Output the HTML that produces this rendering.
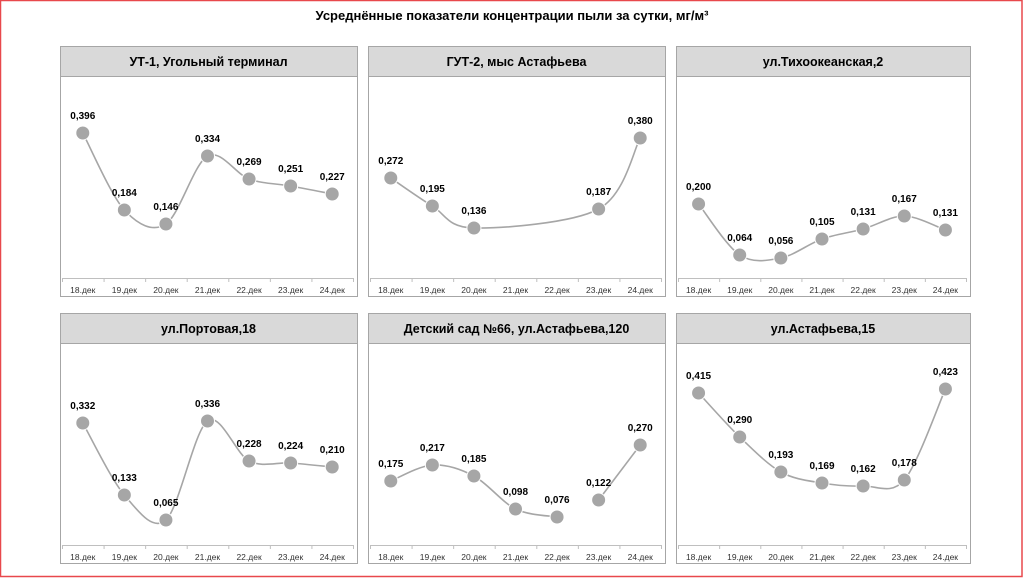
<!DOCTYPE html>
<html><head><meta charset="utf-8"><style>
html,body{margin:0;padding:0;background:#fff}
svg{display:block}
text{font-family:"Liberation Sans",Arial,sans-serif}
</style></head><body>
<svg id="s" width="1024" height="578" xmlns="http://www.w3.org/2000/svg">
<rect x="0.5" y="0.5" width="1021.5" height="576" fill="#fff" stroke="#e8484c" stroke-width="1.5"/>
<text x="512" y="20" text-anchor="middle" font-size="13" font-weight="bold" fill="#000">Усреднённые показатели концентрации пыли за сутки, мг/м³</text>
</svg>
<script>
var s=document.getElementById('s'),NS='http://www.w3.org/2000/svg';
function el(t,a,txt){var e=document.createElementNS(NS,t);for(var k in a)e.setAttribute(k,a[k]);if(txt)e.textContent=txt;s.appendChild(e);return e;}
var panels=[
{x:60,y:46,w:297,b:296,ax:278,t:"УТ-1, Угольный терминал",v:["0,396","0,184","0,146","0,334","0,269","0,251","0,227"],py:[133,210,224,156,179,186,194],seg:[[0,6]]},
{x:368,y:46,w:297,b:296,ax:278,t:"ГУТ-2, мыс Астафьева",v:["0,272","0,195","0,136",null,null,"0,187","0,380"],py:[178,206,228,null,null,209,138],seg:[[0,6]]},
{x:676,y:46,w:294,b:296,ax:278,t:"ул.Тихоокеанская,2",v:["0,200","0,064","0,056","0,105","0,131","0,167","0,131"],py:[204,255,258,239,229,216,230],seg:[[0,6]]},
{x:60,y:313,w:297,b:563,ax:545,t:"ул.Портовая,18",v:["0,332","0,133","0,065","0,336","0,228","0,224","0,210"],py:[423,495,520,421,461,463,467],seg:[[0,6]]},
{x:368,y:313,w:297,b:563,ax:545,t:"Детский сад №66, ул.Астафьева,120",v:["0,175","0,217","0,185","0,098","0,076","0,122","0,270"],py:[481,465,476,509,517,500,445],seg:[[0,4],[5,6]]},
{x:676,y:313,w:294,b:563,ax:545,t:"ул.Астафьева,15",v:["0,415","0,290","0,193","0,169","0,162","0,178","0,423"],py:[393,437,472,483,486,480,389],seg:[[0,6]]}
];
function path(pts){var d='M'+pts[0][0]+','+pts[0][1];for(var i=0;i<pts.length-1;i++){var p0=pts[i-1]||pts[i],p1=pts[i],p2=pts[i+1],p3=pts[i+2]||p2;var t=0.16;d+=' C'+(p1[0]+(p2[0]-p0[0])*t)+','+(p1[1]+(p2[1]-p0[1])*t)+' '+(p2[0]-(p3[0]-p1[0])*t)+','+(p2[1]-(p3[1]-p1[1])*t)+' '+p2[0]+','+p2[1];}return d;}
panels.forEach(function(p){
 el('rect',{x:p.x+.5,y:p.y+.5,width:p.w,height:p.b-p.y,fill:'#fff',stroke:'#a6a6a6'});
 el('rect',{x:p.x+.5,y:p.y+.5,width:p.w,height:30,fill:'#d9d9d9',stroke:'#a6a6a6'});
 el('text',{x:p.x+p.w/2,y:p.y+20,'text-anchor':'middle','font-size':12.5,'font-weight':'bold',fill:'#000'},p.t);
 var l=p.x+2,r=p.x+p.w-4,step=(r-l)/7;
 el('line',{x1:l,y1:p.ax+.5,x2:r,y2:p.ax+.5,stroke:'#bfbfbf'});
 for(var i=0;i<=7;i++)el('line',{x1:l+i*step+.5,y1:p.ax,x2:l+i*step+.5,y2:p.ax+4,stroke:'#bfbfbf'});
 var xs=[];for(var i=0;i<7;i++){xs.push(l+step*(i+.5));el('text',{x:l+step*(i+.5),y:p.ax+15,'text-anchor':'middle','font-size':8.5,fill:'#333'},(18+i)+'.дек');}
 var pts=[];for(var i=0;i<7;i++)if(p.py[i]!=null)pts.push([xs[i],p.py[i],i]);
 p.seg.forEach(function(sg){var q=pts.filter(function(a){return a[2]>=sg[0]&&a[2]<=sg[1]});if(q.length>1)el('path',{d:path(q),fill:'none',stroke:'#a6a6a6','stroke-width':1.6});});
 pts.forEach(function(a){el('circle',{cx:a[0],cy:a[1],r:7,fill:'#a6a6a6',stroke:'#fff','stroke-width':1});
  el('text',{x:a[0],y:a[1]-14,'text-anchor':'middle','font-size':10,'font-weight':'bold',fill:'#000'},p.v[a[2]]);});
});
</script>
</body></html>
